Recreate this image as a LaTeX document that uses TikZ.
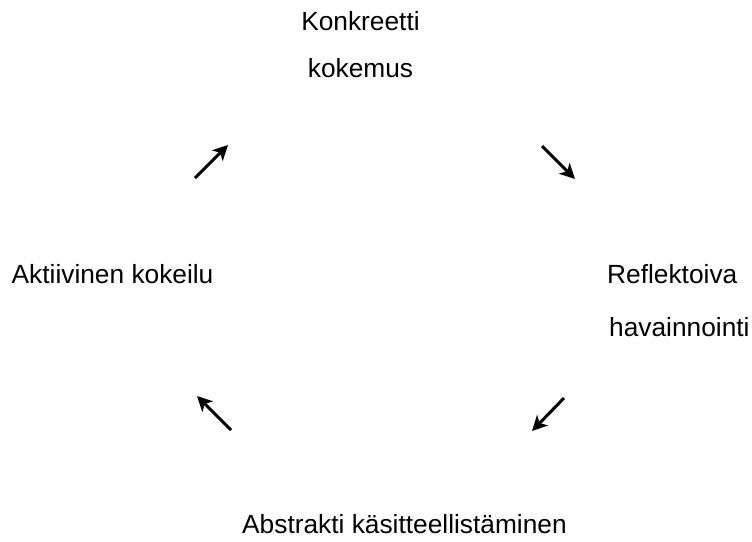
\documentclass[tikz,border=0pt]{standalone}
\usepackage{fontspec}
\setmainfont{Liberation Sans}
\usetikzlibrary{arrows.meta}
\begin{document}
\begin{tikzpicture}[x=1pt,y=-1pt,
  lbl/.style={inner sep=0pt,font=\fontsize{26.3}{30}\selectfont},
  cyc/.style={line width=3pt,-{Stealth[length=15pt,width=15pt,inset=4pt]}}]
\useasboundingbox (0,0) rectangle (752,541);
\node[lbl,anchor=base] (k1) at (360.5,30) {Konkreetti};
\node[lbl,anchor=base] (k2) at (360.5,77) {kokemus};
\node[lbl,anchor=base west] (akt) at (11.5,283) {Aktiivinen kokeilu};
\node[lbl,anchor=base west] (ref1) at (607,283) {Reflektoiva};
\node[lbl,anchor=base west] (ref2) at (609,336) {havainnointi};
\node[lbl,anchor=base west] (abs) at (242,533) {Abstrakti käsitteellistäminen};
\coordinate (a1s) at (195,178); \coordinate (a1e) at (228,145);
\coordinate (a2s) at (542,146); \coordinate (a2e) at (575,179);
\coordinate (a3s) at (564,398); \coordinate (a3e) at (532,431);
\coordinate (a4s) at (231,430); \coordinate (a4e) at (197,396);
\draw[cyc] (a1s) -- (a1e);
\draw[cyc] (a2s) -- (a2e);
\draw[cyc] (a3s) -- (a3e);
\draw[cyc] (a4s) -- (a4e);
\end{tikzpicture}
\end{document}
